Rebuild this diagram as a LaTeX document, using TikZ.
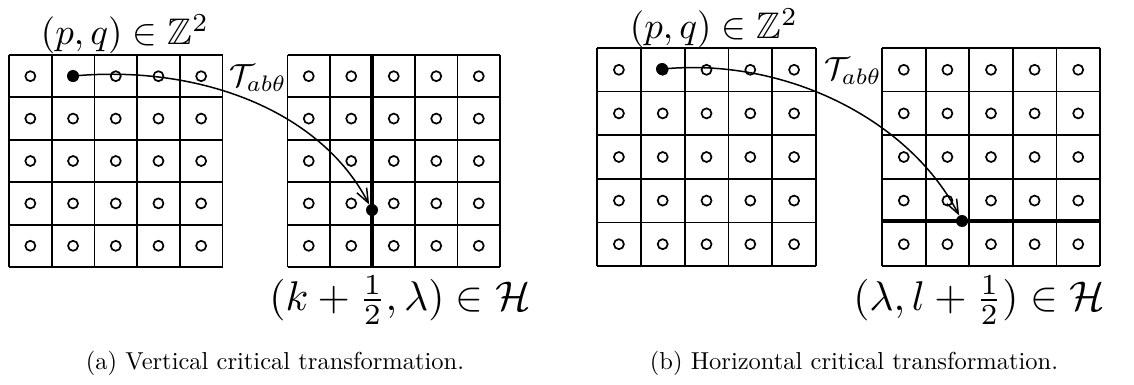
\documentclass[tikz,border=0pt]{standalone}
\usepackage{amsmath,amssymb}
\usetikzlibrary{arrows.meta}
\begin{document}
\begin{tikzpicture}[x=1pt,y=-1pt,
  gridline/.style={line width=1.8pt},
  heavy/.style={line width=3.8pt},
  cell/.style={line width=1.7pt},
  dot/.style={circle,fill=black,inner sep=0pt,minimum size=12pt},
  lbl/.style={inner sep=0pt,scale=3.7},
  hlbl/.style={inner sep=0pt,scale=4.15},
  tlbl/.style={inner sep=0pt,scale=3.2},
  captxt/.style={inner sep=0pt,scale=2.45},
  arr/.style={-{Straight Barb[length=14pt,width=11pt,line width=1.5pt]},line width=1.5pt}]
\useasboundingbox (0,0) rectangle (1134,385);
\foreach \xa/\xb/\ya/\yb in {9/222.5/55/267, 287.5/500/55/267, 597/816/48/266, 882/1100/48/266}{
  \foreach \i in {0,...,5}{
    \draw[gridline] ({\xa+\i*(\xb-\xa)/5},\ya) -- ({\xa+\i*(\xb-\xa)/5},\yb);
    \draw[gridline] (\xa,{\ya+\i*(\yb-\ya)/5}) -- (\xb,{\ya+\i*(\yb-\ya)/5});
  }
  \foreach \i in {0,...,4}{
    \foreach \j in {0,...,4}{
      \draw[cell] ({\xa+(\i+0.5)*(\xb-\xa)/5},{\ya+(\j+0.5)*(\yb-\ya)/5}) circle (5pt);
    }
  }
}
% thick lines
\draw[heavy] (372,55) -- (372,267);
\draw[heavy] (882,221) -- (1100,221);
% dots
\node[dot] (sa) at (73,76) {};
\node[dot] (ea) at (372,210) {};
\node[dot] (sb) at (662,69) {};
\node[dot] (eb) at (962,221) {};
% arrows
\draw[arr] (sa) .. controls (200,66) and (320,110) .. (ea);
\draw[arr] (sb) .. controls (789,59) and (910,121) .. (eb);
% labels
\node[lbl] (pqa) at (125,34) {$(p,q)\in\mathbb{Z}^2$};
\node[lbl] (pqb) at (714,28) {$(p,q)\in\mathbb{Z}^2$};
\node[tlbl] (ta) at (258,78) {$\mathcal{T}_{ab\theta}$};
\node[tlbl] (tb) at (853,71) {$\mathcal{T}_{ab\theta}$};
\node[hlbl] (ha) at (400,300) {$(k+\frac{1}{2},\lambda)\in\mathcal{H}$};
\node[hlbl] (hb) at (979,300) {$(\lambda,l+\frac{1}{2})\in\mathcal{H}$};
\node[captxt] (ca) at (275,363) {(a) Vertical critical transformation.};
\node[captxt] (cb) at (854,363) {(b) Horizontal critical transformation.};
\end{tikzpicture}
\end{document}
